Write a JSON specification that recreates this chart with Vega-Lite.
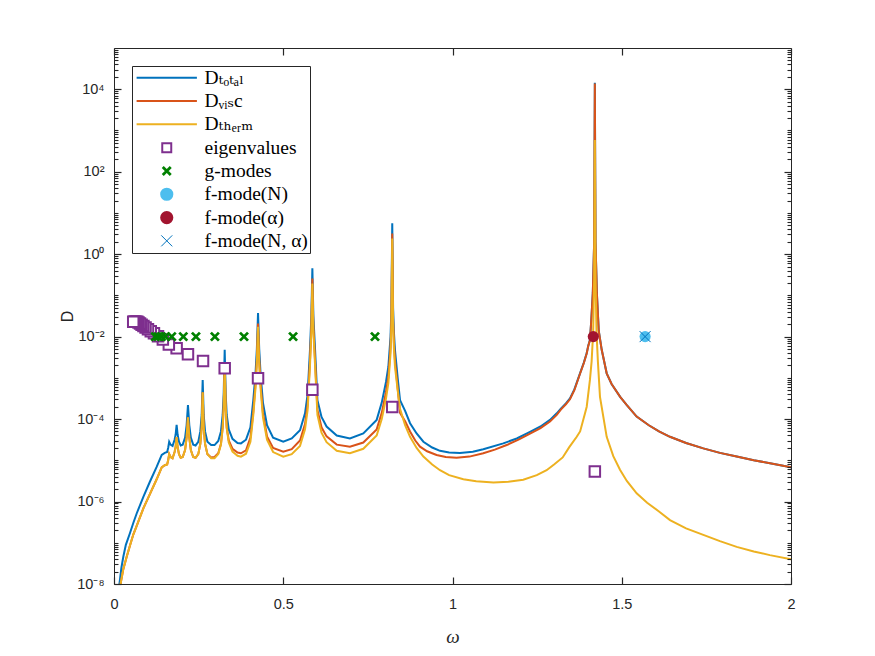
{
"$schema":"https://vega.github.io/schema/vega-lite/v6.json",
"width":677,"height":536,
"autosize":{"type":"none"},
"padding":{"left":114,"top":48,"right":84,"bottom":72},
"background":"white",
"config":{
 "view":{"stroke":"#262626","strokeWidth":1},
 "axis":{"grid":false,"domain":false,"tickColor":"#262626","tickWidth":1.2,"labelColor":"#262626","titleColor":"#262626","labelFont":"Liberation Sans","labelFontSize":14.5,"titleFont":"Liberation Sans","titleFontWeight":"normal","labelOverlap":false,"labelFlush":false}
},
"datasets":{
"total":[
{"w":0.008,"D":1.259e-9},{"w":0.016,"D":1e-8},{"w":0.022,"D":2.512e-8},{"w":0.0275,"D":4.571e-8},{"w":0.035,"D":8.913e-8},{"w":0.047,"D":1.698e-7},{"w":0.057,"D":3.02e-7},{"w":0.067,"D":5.129e-7},{"w":0.087,"D":1.318e-6},{"w":0.106,"D":3.02e-6},{"w":0.126,"D":6.918e-6},{"w":0.141,"D":1.349e-5},{"w":0.15,"D":1.514e-5},{"w":0.157,"D":1.585e-5},{"w":0.16,"D":1.995e-5},{"w":0.163,"D":2.818e-5},{"w":0.167,"D":2.399e-5},{"w":0.173,"D":2.239e-5},{"w":0.179,"D":3.162e-5},{"w":0.182,"D":4.169e-5},{"w":0.185,"D":7.244e-5},{"w":0.188,"D":4.169e-5},{"w":0.192,"D":2.818e-5},{"w":0.197,"D":2.291e-5},{"w":0.203,"D":2.399e-5},{"w":0.21,"D":3.548e-5},{"w":0.2145,"D":7.079e-5},{"w":0.2185,"D":2.188e-4},{"w":0.2225,"D":7.079e-5},{"w":0.227,"D":3.548e-5},{"w":0.234,"D":2.399e-5},{"w":0.241,"D":2.291e-5},{"w":0.249,"D":2.818e-5},{"w":0.255,"D":5.012e-5},{"w":0.259,"D":1.259e-4},{"w":0.262,"D":8.913e-4},{"w":0.265,"D":1.259e-4},{"w":0.269,"D":5.012e-5},{"w":0.276,"D":2.818e-5},{"w":0.287,"D":2.344e-5},{"w":0.297,"D":2.344e-5},{"w":0.308,"D":2.951e-5},{"w":0.316,"D":5.012e-5},{"w":0.321,"D":1.259e-4},{"w":0.324,"D":3.981e-4},{"w":0.327,"D":4.786e-3},{"w":0.33,"D":3.981e-4},{"w":0.333,"D":1.259e-4},{"w":0.339,"D":5.623e-5},{"w":0.35,"D":3.311e-5},{"w":0.365,"D":2.63e-5},{"w":0.375,"D":2.57e-5},{"w":0.39,"D":3.162e-5},{"w":0.403,"D":6.31e-5},{"w":0.4115,"D":2.884e-4},{"w":0.418,"D":1.259e-3},{"w":0.422,"D":5.012e-3},{"w":0.4255,"D":3.715e-2},{"w":0.429,"D":5.012e-3},{"w":0.433,"D":1.259e-3},{"w":0.44,"D":2.512e-4},{"w":0.452,"D":7.079e-5},{"w":0.47,"D":3.548e-5},{"w":0.5,"D":2.818e-5},{"w":0.525,"D":3.388e-5},{"w":0.5495,"D":5.37e-5},{"w":0.5643,"D":1.38e-4},{"w":0.572,"D":3.981e-4},{"w":0.579,"D":4.786e-3},{"w":0.583,"D":3.162e-2},{"w":0.586,"D":4.571e-1},{"w":0.589,"D":3.162e-2},{"w":0.594,"D":4.786e-3},{"w":0.601,"D":2.884e-4},{"w":0.613,"D":1.122e-4},{"w":0.628,"D":6.607e-5},{"w":0.658,"D":3.981e-5},{"w":0.697,"D":3.388e-5},{"w":0.7365,"D":4.467e-5},{"w":0.776,"D":9.55e-5},{"w":0.791,"D":2.512e-4},{"w":0.8035,"D":7.943e-4},{"w":0.8105,"D":1.862e-3},{"w":0.817,"D":1e-2},{"w":0.8195,"D":5.012e-2},{"w":0.822,"D":5.623},{"w":0.8245,"D":5.012e-2},{"w":0.827,"D":1.259e-2},{"w":0.83,"D":4.786e-3},{"w":0.838,"D":1e-3},{"w":0.845,"D":2.884e-4},{"w":0.86,"D":1.585e-4},{"w":0.8746,"D":7.943e-5},{"w":0.894,"D":4.467e-5},{"w":0.914,"D":2.818e-5},{"w":0.94,"D":2.042e-5},{"w":0.963,"D":1.698e-5},{"w":0.99,"D":1.549e-5},{"w":1.022,"D":1.514e-5},{"w":1.06,"D":1.622e-5},{"w":1.091,"D":1.862e-5},{"w":1.15,"D":2.57e-5},{"w":1.19,"D":3.388e-5},{"w":1.229,"D":4.898e-5},{"w":1.26,"D":6.607e-5},{"w":1.288,"D":9.55e-5},{"w":1.308,"D":1.38e-4},{"w":1.32,"D":1.778e-4},{"w":1.335,"D":2.399e-4},{"w":1.347,"D":3.162e-4},{"w":1.36,"D":5.248e-4},{"w":1.3767,"D":1.288e-3},{"w":1.388,"D":2.344e-3},{"w":1.3965,"D":3.981e-3},{"w":1.401,"D":6.026e-3},{"w":1.406,"D":8.318e-3},{"w":1.41,"D":2.512e-2},{"w":1.4145,"D":1.148e-1},{"w":1.4185,"D":1.995},{"w":1.4205,"D":1.445e4},{"w":1.4225,"D":1.995},{"w":1.4265,"D":1.148e-1},{"w":1.432,"D":1.413e-2},{"w":1.4408,"D":4.786e-3},{"w":1.4555,"D":1.288e-3},{"w":1.47,"D":7.079e-4},{"w":1.4953,"D":3.467e-4},{"w":1.515,"D":2.188e-4},{"w":1.544,"D":1.148e-4},{"w":1.58,"D":7.079e-5},{"w":1.61,"D":5.012e-5},{"w":1.6425,"D":3.715e-5},{"w":1.69,"D":2.63e-5},{"w":1.741,"D":1.95e-5},{"w":1.79,"D":1.514e-5},{"w":1.8396,"D":1.23e-5},{"w":1.89,"D":1e-5},{"w":1.938,"D":8.511e-6},{"w":2.0,"D":6.761e-6}
],
"visc":[
{"w":0.012,"D":1.585e-9},{"w":0.0198,"D":1.047e-8},{"w":0.0275,"D":2.291e-8},{"w":0.0375,"D":4.571e-8},{"w":0.047,"D":8.511e-8},{"w":0.057,"D":1.585e-7},{"w":0.067,"D":2.57e-7},{"w":0.087,"D":6.918e-7},{"w":0.106,"D":1.514e-6},{"w":0.126,"D":3.467e-6},{"w":0.141,"D":6.761e-6},{"w":0.15,"D":7.586e-6},{"w":0.157,"D":7.943e-6},{"w":0.16,"D":1e-5},{"w":0.163,"D":1.413e-5},{"w":0.167,"D":1.202e-5},{"w":0.173,"D":1.122e-5},{"w":0.179,"D":1.585e-5},{"w":0.182,"D":2.089e-5},{"w":0.185,"D":3.631e-5},{"w":0.188,"D":2.089e-5},{"w":0.192,"D":1.413e-5},{"w":0.197,"D":1.148e-5},{"w":0.203,"D":1.202e-5},{"w":0.21,"D":1.778e-5},{"w":0.2145,"D":3.548e-5},{"w":0.2185,"D":1.096e-4},{"w":0.2225,"D":3.548e-5},{"w":0.227,"D":1.778e-5},{"w":0.234,"D":1.202e-5},{"w":0.241,"D":1.148e-5},{"w":0.249,"D":1.413e-5},{"w":0.255,"D":2.512e-5},{"w":0.259,"D":6.31e-5},{"w":0.262,"D":4.467e-4},{"w":0.265,"D":6.31e-5},{"w":0.269,"D":2.512e-5},{"w":0.276,"D":1.413e-5},{"w":0.287,"D":1.175e-5},{"w":0.297,"D":1.202e-5},{"w":0.308,"D":1.479e-5},{"w":0.316,"D":2.512e-5},{"w":0.321,"D":6.31e-5},{"w":0.324,"D":1.995e-4},{"w":0.327,"D":2.399e-3},{"w":0.33,"D":1.995e-4},{"w":0.333,"D":6.31e-5},{"w":0.339,"D":3.02e-5},{"w":0.35,"D":1.905e-5},{"w":0.365,"D":1.549e-5},{"w":0.375,"D":1.479e-5},{"w":0.39,"D":1.738e-5},{"w":0.403,"D":3.548e-5},{"w":0.4115,"D":1.514e-4},{"w":0.418,"D":7.079e-4},{"w":0.422,"D":2.818e-3},{"w":0.4255,"D":2.089e-2},{"w":0.429,"D":2.818e-3},{"w":0.433,"D":7.079e-4},{"w":0.44,"D":1.413e-4},{"w":0.452,"D":3.802e-5},{"w":0.47,"D":1.995e-5},{"w":0.5,"D":1.622e-5},{"w":0.525,"D":1.862e-5},{"w":0.5495,"D":3.02e-5},{"w":0.5643,"D":7.586e-5},{"w":0.572,"D":2.239e-4},{"w":0.579,"D":2.63e-3},{"w":0.583,"D":1.738e-2},{"w":0.586,"D":2.57e-1},{"w":0.589,"D":1.738e-2},{"w":0.594,"D":2.63e-3},{"w":0.601,"D":1.66e-4},{"w":0.613,"D":6.31e-5},{"w":0.628,"D":3.802e-5},{"w":0.658,"D":2.399e-5},{"w":0.697,"D":2.138e-5},{"w":0.7365,"D":2.692e-5},{"w":0.776,"D":5.623e-5},{"w":0.791,"D":1.413e-4},{"w":0.8035,"D":4.467e-4},{"w":0.8105,"D":1.047e-3},{"w":0.817,"D":5.623e-3},{"w":0.8195,"D":2.818e-2},{"w":0.822,"D":3.162},{"w":0.8245,"D":2.818e-2},{"w":0.827,"D":7.079e-3},{"w":0.83,"D":2.692e-3},{"w":0.838,"D":5.623e-4},{"w":0.845,"D":1.413e-4},{"w":0.86,"D":8.913e-5},{"w":0.8746,"D":5.012e-5},{"w":0.89,"D":3.02e-5},{"w":0.904,"D":2.138e-5},{"w":0.925,"D":1.66e-5},{"w":0.953,"D":1.349e-5},{"w":0.98,"D":1.202e-5},{"w":1.012,"D":1.148e-5},{"w":1.05,"D":1.23e-5},{"w":1.091,"D":1.479e-5},{"w":1.125,"D":1.82e-5},{"w":1.16,"D":2.344e-5},{"w":1.195,"D":3.162e-5},{"w":1.229,"D":4.467e-5},{"w":1.26,"D":6.026e-5},{"w":1.288,"D":8.71e-5},{"w":1.308,"D":1.259e-4},{"w":1.32,"D":1.698e-4},{"w":1.335,"D":2.291e-4},{"w":1.347,"D":3.02e-4},{"w":1.36,"D":5.012e-4},{"w":1.3767,"D":1.259e-3},{"w":1.388,"D":2.291e-3},{"w":1.3965,"D":3.89e-3},{"w":1.401,"D":5.888e-3},{"w":1.406,"D":8.128e-3},{"w":1.41,"D":2.455e-2},{"w":1.4145,"D":1.122e-1},{"w":1.4185,"D":1.95},{"w":1.4205,"D":1.38e4},{"w":1.4225,"D":1.95},{"w":1.4265,"D":1.122e-1},{"w":1.432,"D":1.38e-2},{"w":1.4408,"D":4.786e-3},{"w":1.4555,"D":1.288e-3},{"w":1.47,"D":7.079e-4},{"w":1.4953,"D":3.467e-4},{"w":1.515,"D":2.188e-4},{"w":1.544,"D":1.148e-4},{"w":1.58,"D":7.079e-5},{"w":1.61,"D":5.012e-5},{"w":1.6425,"D":3.715e-5},{"w":1.69,"D":2.63e-5},{"w":1.741,"D":1.95e-5},{"w":1.79,"D":1.514e-5},{"w":1.8396,"D":1.23e-5},{"w":1.89,"D":1e-5},{"w":1.938,"D":8.511e-6},{"w":2.0,"D":6.761e-6}
],
"therm":[
{"w":0.012,"D":1.585e-9},{"w":0.0198,"D":1.047e-8},{"w":0.0275,"D":2.291e-8},{"w":0.0375,"D":4.571e-8},{"w":0.047,"D":8.511e-8},{"w":0.057,"D":1.585e-7},{"w":0.067,"D":2.57e-7},{"w":0.087,"D":6.918e-7},{"w":0.106,"D":1.514e-6},{"w":0.126,"D":3.467e-6},{"w":0.141,"D":6.761e-6},{"w":0.15,"D":7.586e-6},{"w":0.157,"D":7.943e-6},{"w":0.16,"D":1e-5},{"w":0.163,"D":1.413e-5},{"w":0.167,"D":1.202e-5},{"w":0.173,"D":1.122e-5},{"w":0.179,"D":1.585e-5},{"w":0.182,"D":2.089e-5},{"w":0.185,"D":3.631e-5},{"w":0.188,"D":2.089e-5},{"w":0.192,"D":1.413e-5},{"w":0.197,"D":1.148e-5},{"w":0.203,"D":1.202e-5},{"w":0.21,"D":1.778e-5},{"w":0.2145,"D":3.548e-5},{"w":0.2185,"D":1.096e-4},{"w":0.2225,"D":3.548e-5},{"w":0.227,"D":1.778e-5},{"w":0.234,"D":1.202e-5},{"w":0.241,"D":1.148e-5},{"w":0.249,"D":1.413e-5},{"w":0.255,"D":2.512e-5},{"w":0.259,"D":6.31e-5},{"w":0.262,"D":4.467e-4},{"w":0.265,"D":6.31e-5},{"w":0.269,"D":2.512e-5},{"w":0.276,"D":1.413e-5},{"w":0.287,"D":1.122e-5},{"w":0.297,"D":1.122e-5},{"w":0.308,"D":1.413e-5},{"w":0.316,"D":2.399e-5},{"w":0.321,"D":6.026e-5},{"w":0.324,"D":1.905e-4},{"w":0.327,"D":2.399e-3},{"w":0.33,"D":1.905e-4},{"w":0.333,"D":6.026e-5},{"w":0.339,"D":2.692e-5},{"w":0.35,"D":1.622e-5},{"w":0.365,"D":1.288e-5},{"w":0.375,"D":1.23e-5},{"w":0.39,"D":1.445e-5},{"w":0.403,"D":2.818e-5},{"w":0.4115,"D":1.259e-4},{"w":0.418,"D":5.623e-4},{"w":0.422,"D":2.239e-3},{"w":0.4255,"D":1.738e-2},{"w":0.429,"D":2.239e-3},{"w":0.433,"D":5.623e-4},{"w":0.44,"D":1.122e-4},{"w":0.452,"D":3.162e-5},{"w":0.47,"D":1.585e-5},{"w":0.5,"D":1.23e-5},{"w":0.525,"D":1.413e-5},{"w":0.5495,"D":2.239e-5},{"w":0.5643,"D":5.623e-5},{"w":0.572,"D":1.66e-4},{"w":0.579,"D":1.995e-3},{"w":0.583,"D":1.318e-2},{"w":0.586,"D":1.95e-1},{"w":0.589,"D":1.318e-2},{"w":0.594,"D":1.995e-3},{"w":0.601,"D":1.259e-4},{"w":0.613,"D":4.677e-5},{"w":0.628,"D":2.754e-5},{"w":0.658,"D":1.698e-5},{"w":0.697,"D":1.479e-5},{"w":0.7365,"D":1.905e-5},{"w":0.776,"D":3.981e-5},{"w":0.791,"D":1e-4},{"w":0.8035,"D":3.162e-4},{"w":0.8105,"D":7.413e-4},{"w":0.817,"D":3.981e-3},{"w":0.8195,"D":1.995e-2},{"w":0.822,"D":2.399},{"w":0.8245,"D":1.995e-2},{"w":0.827,"D":5.012e-3},{"w":0.83,"D":1.905e-3},{"w":0.838,"D":5.012e-4},{"w":0.845,"D":1.778e-4},{"w":0.86,"D":7.079e-5},{"w":0.8746,"D":3.715e-5},{"w":0.894,"D":1.995e-5},{"w":0.914,"D":1.23e-5},{"w":0.94,"D":7.943e-6},{"w":0.963,"D":5.754e-6},{"w":0.99,"D":4.365e-6},{"w":1.032,"D":3.467e-6},{"w":1.07,"D":3.09e-6},{"w":1.121,"D":2.884e-6},{"w":1.165,"D":3.02e-6},{"w":1.209,"D":3.388e-6},{"w":1.249,"D":4.365e-6},{"w":1.278,"D":5.754e-6},{"w":1.3,"D":7.943e-6},{"w":1.3255,"D":1.175e-5},{"w":1.345,"D":2.089e-5},{"w":1.367,"D":3.715e-5},{"w":1.377,"D":5.012e-5},{"w":1.3915,"D":1.38e-4},{"w":1.3965,"D":1.995e-4},{"w":1.406,"D":8.913e-4},{"w":1.411,"D":2.512e-3},{"w":1.4155,"D":1.259e-2},{"w":1.4185,"D":2.512e-1},{"w":1.4205,"D":588.8},{"w":1.4225,"D":2.512e-1},{"w":1.4255,"D":1.259e-2},{"w":1.4295,"D":2.512e-3},{"w":1.4357,"D":3.467e-4},{"w":1.4555,"D":3.715e-5},{"w":1.475,"D":1.259e-5},{"w":1.4948,"D":5.888e-6},{"w":1.515,"D":3.162e-6},{"w":1.544,"D":1.585e-6},{"w":1.575,"D":9.333e-7},{"w":1.61,"D":5.754e-7},{"w":1.6425,"D":3.548e-7},{"w":1.69,"D":2.239e-7},{"w":1.741,"D":1.549e-7},{"w":1.79,"D":1.096e-7},{"w":1.8396,"D":7.943e-8},{"w":1.89,"D":6.166e-8},{"w":1.9375,"D":5.012e-8},{"w":2.0,"D":3.981e-8}
],
"eig":[
{"w":1.4205,"D":5.37e-6},{"w":0.822,"D":1.95e-4},{"w":0.586,"D":5.129e-4},{"w":0.4255,"D":9.772e-4},{"w":0.327,"D":1.698e-3},{"w":0.263,"D":2.57e-3},{"w":0.2185,"D":3.715e-3},{"w":0.185,"D":5.248e-3},{"w":0.162,"D":6.457e-3},{"w":0.1443,"D":8.511e-3},{"w":0.13,"D":1.023e-2},{"w":0.118,"D":1.202e-2},{"w":0.1086,"D":1.349e-2},{"w":0.1003,"D":1.514e-2},{"w":0.0932,"D":1.66e-2},{"w":0.087,"D":1.82e-2},{"w":0.0816,"D":1.95e-2},{"w":0.0769,"D":2.089e-2},{"w":0.0725,"D":2.188e-2},{"w":0.069,"D":2.291e-2},{"w":0.0654,"D":2.291e-2},{"w":0.0621,"D":2.291e-2},{"w":0.0595,"D":2.291e-2},{"w":0.0568,"D":2.291e-2}
],
"gm":[
{"w":0.771,"D":0.01},{"w":0.529,"D":0.01},{"w":0.384,"D":0.01},{"w":0.298,"D":0.01},{"w":0.242,"D":0.01},{"w":0.2047,"D":0.01},{"w":0.1705,"D":0.01},{"w":0.152,"D":0.01},{"w":0.14,"D":0.01},{"w":0.13,"D":0.01},{"w":0.122,"D":0.01}
],
"fN":[{"w":1.569,"D":0.01}],
"fa":[{"w":1.416,"D":0.01}],
"fNa":[{"w":1.569,"D":0.01}]
},
"layer":[
{"data":{"name":"total"},
 "mark":{"type":"line","strokeWidth":2,"clip":true},
 "encoding":{
  "x":{"field":"w","type":"quantitative","scale":{"domain":[0,2],"nice":false,"zero":false},
   "axis":{"orient":"bottom","values":[0,0.5,1,1.5,2],"ticks":false,"labelPadding":13,"labelExpr":"format(datum.value, '~g')","title":"ω","titleFont":"Liberation Serif, DejaVu Serif","titleFontStyle":"italic","titleFontSize":19,"titlePadding":17}},
  "y":{"field":"D","type":"quantitative","scale":{"type":"log","domain":[1e-8,1e5],"nice":false},
   "axis":{"orient":"left","ticks":false,"labelPadding":10,"title":"D","titleFontSize":16,"titleX":-39,"titleY":268,
    "values":[1e-8,1e-6,1e-4,0.01,1,100,10000],
    "labelExpr":"datum.value == 10000 ? '10⁴' : datum.value == 100 ? '10²' : datum.value == 1 ? '10⁰' : datum.value == 0.01 ? '10⁻²' : datum.value == 1e-4 ? '10⁻⁴' : datum.value == 1e-6 ? '10⁻⁶' : datum.value == 1e-8 ? '10⁻⁸' : ''"}},
  "color":{"datum":"Dtotal","type":"nominal",
   "scale":{"domain":["Dtotal","Dvisc","Dtherm","eigenvalues","g-modes","f-mode(N)","f-mode(α)","f-mode(N, α)"],"range":["#0072BD","#D95319","#EDB120","#7E2F8E","#008000","#4DBEEE","#A2142F","#0072BD"]},
   "legend":{"title":null,"orient":"top-left","offset":18,"padding":2,"symbolOffset":23,"labelOffset":28,"symbolSize":81,"rowPadding":2.3,
    "labelFont":"Liberation Serif, DejaVu Serif","labelFontSize":19.5,"labelColor":"black","labelLimit":400,
    "fillColor":"white","strokeColor":"#262626",
    "labelExpr":"datum.value == 'Dtotal' ? 'Dₜₒₜₐₗ' : datum.value == 'Dvisc' ? 'Dᵥᵢₛc' : datum.value == 'Dtherm' ? 'Dₜₕₑᵣₘ' : datum.label",
    "encode":{"symbols":{"update":{
     "shape":{"signal":"indexof(['Dtotal','Dvisc','Dtherm'], datum.value) >= 0 ? 'M-6.7,0L6.7,0' : datum.value == 'eigenvalues' ? 'M-1.22,-1.22H1.22V1.22H-1.22Z M-0.78,-0.78V0.78H0.78V-0.78Z' : (datum.value == 'g-modes' || datum.value == 'f-mode(N, α)') ? 'M-1,-1L1,1M-1,1L1,-1' : 'circle'"},
     "size":{"signal":"indexof(['Dtotal','Dvisc','Dtherm'], datum.value) >= 0 ? 81 : datum.value == 'eigenvalues' ? 81 : datum.value == 'g-modes' ? 64 : datum.value == 'f-mode(N, α)' ? 121 : 125"},
     "fill":{"signal":"datum.value == 'eigenvalues' ? '#7E2F8E' : datum.value == 'f-mode(N)' ? '#4DBEEE' : datum.value == 'f-mode(α)' ? '#A2142F' : 'transparent'"},
     "stroke":{"signal":"datum.value == 'Dtotal' ? '#0072BD' : datum.value == 'Dvisc' ? '#D95319' : datum.value == 'Dtherm' ? '#EDB120' : datum.value == 'g-modes' ? '#008000' : datum.value == 'f-mode(N, α)' ? '#0072BD' : 'transparent'"},
     "strokeWidth":{"signal":"datum.value == 'g-modes' ? 2.8 : datum.value == 'f-mode(N, α)' ? 1 : datum.value == 'eigenvalues' ? 0 : 2"},
     "opacity":{"value":1}
    }}}
   }}
 }},
{"data":{"name":"visc"},
 "mark":{"type":"line","strokeWidth":2,"clip":true},
 "encoding":{
  "x":{"field":"w","type":"quantitative","axis":{"orient":"top","offset":-536,"zindex":2,"values":[0,0.5,1,1.5,2],"labels":false,"title":null,"ticks":true,"tickSize":7,"tickColor":"#262626","tickWidth":1.2}},
  "y":{"field":"D","type":"quantitative","axis":{"orient":"right","offset":-677,"zindex":2,"values":[1e-8,1e-6,1e-4,0.01,1,100,10000],"labels":false,"title":null,"ticks":true,"tickSize":7,"tickColor":"#262626","tickWidth":1.2}},
  "color":{"datum":"Dvisc","type":"nominal"}
 }},
{"data":{"name":"therm"},
 "mark":{"type":"line","strokeWidth":2,"clip":true},
 "encoding":{
  "x":{"field":"w","type":"quantitative","axis":{"orient":"bottom","offset":-536,"zindex":2,"values":[0,0.5,1,1.5,2],"labels":false,"title":null,"ticks":true,"tickSize":7,"tickColor":"#262626","tickWidth":1.2}},
  "y":{"field":"D","type":"quantitative","axis":{"orient":"left","offset":-677,"zindex":2,"values":[1e-8,1e-6,1e-4,0.01,1,100,10000],"labels":false,"title":null,"ticks":true,"tickSize":7,"tickColor":"#262626","tickWidth":1.2}},
  "color":{"datum":"Dtherm","type":"nominal"}
 }},
{"data":{"name":"eig"},
 "mark":{"type":"point","shape":"square","filled":false,"fill":"white","size":110,"strokeWidth":2,"opacity":1},
 "encoding":{
  "x":{"field":"w","type":"quantitative","axis":null},
  "y":{"field":"D","type":"quantitative","axis":{"orient":"right","offset":-677,"zindex":2,"labels":false,"title":null,"ticks":true,"tickSize":4,"tickColor":"#262626","tickWidth":1.1,
   "values":[2e-8,3e-8,4e-8,5e-8,6e-8,7e-8,8e-8,9e-8,1e-7,2e-7,3e-7,4e-7,5e-7,6e-7,7e-7,8e-7,9e-7,2e-6,3e-6,4e-6,5e-6,6e-6,7e-6,8e-6,9e-6,1e-5,2e-5,3e-5,4e-5,5e-5,6e-5,7e-5,8e-5,9e-5,2e-4,3e-4,4e-4,5e-4,6e-4,7e-4,8e-4,9e-4,1e-3,2e-3,3e-3,4e-3,5e-3,6e-3,7e-3,8e-3,9e-3,0.02,0.03,0.04,0.05,0.06,0.07,0.08,0.09,0.1,0.2,0.3,0.4,0.5,0.6,0.7,0.8,0.9,2,3,4,5,6,7,8,9,10,20,30,40,50,60,70,80,90,200,300,400,500,600,700,800,900,1000,2000,3000,4000,5000,6000,7000,8000,9000,20000,30000,40000,50000,60000,70000,80000,90000]}},
  "color":{"datum":"eigenvalues","type":"nominal"}
 }},
{"data":{"name":"gm"},
 "mark":{"type":"point","shape":"M-1,-1L1,1M-1,1L1,-1","filled":false,"size":64,"strokeWidth":2.8,"opacity":1},
 "encoding":{
  "x":{"field":"w","type":"quantitative","axis":null},
  "y":{"field":"D","type":"quantitative","axis":{"orient":"left","offset":-677,"zindex":2,"labels":false,"title":null,"ticks":true,"tickSize":4,"tickColor":"#262626","tickWidth":1.1,
   "values":[2e-8,3e-8,4e-8,5e-8,6e-8,7e-8,8e-8,9e-8,1e-7,2e-7,3e-7,4e-7,5e-7,6e-7,7e-7,8e-7,9e-7,2e-6,3e-6,4e-6,5e-6,6e-6,7e-6,8e-6,9e-6,1e-5,2e-5,3e-5,4e-5,5e-5,6e-5,7e-5,8e-5,9e-5,2e-4,3e-4,4e-4,5e-4,6e-4,7e-4,8e-4,9e-4,1e-3,2e-3,3e-3,4e-3,5e-3,6e-3,7e-3,8e-3,9e-3,0.02,0.03,0.04,0.05,0.06,0.07,0.08,0.09,0.1,0.2,0.3,0.4,0.5,0.6,0.7,0.8,0.9,2,3,4,5,6,7,8,9,10,20,30,40,50,60,70,80,90,200,300,400,500,600,700,800,900,1000,2000,3000,4000,5000,6000,7000,8000,9000,20000,30000,40000,50000,60000,70000,80000,90000]}},
  "color":{"datum":"g-modes","type":"nominal"}
 }},
{"data":{"name":"fN"},
 "mark":{"type":"point","shape":"circle","filled":true,"size":125,"opacity":1},
 "encoding":{
  "x":{"field":"w","type":"quantitative","axis":null},
  "y":{"field":"D","type":"quantitative","axis":null},
  "color":{"datum":"f-mode(N)","type":"nominal"}
 }},
{"data":{"name":"fa"},
 "mark":{"type":"point","shape":"circle","filled":true,"size":125,"opacity":1},
 "encoding":{
  "x":{"field":"w","type":"quantitative","axis":null},
  "y":{"field":"D","type":"quantitative","axis":null},
  "color":{"datum":"f-mode(α)","type":"nominal"}
 }},
{"data":{"name":"fNa"},
 "mark":{"type":"point","shape":"M-1,-1L1,1M-1,1L1,-1","filled":false,"size":121,"strokeWidth":1,"opacity":1},
 "encoding":{
  "x":{"field":"w","type":"quantitative","axis":null},
  "y":{"field":"D","type":"quantitative","axis":null},
  "color":{"datum":"f-mode(N, α)","type":"nominal"}
 }}
],
"resolve":{"axis":{"x":"independent","y":"independent"}}
}
